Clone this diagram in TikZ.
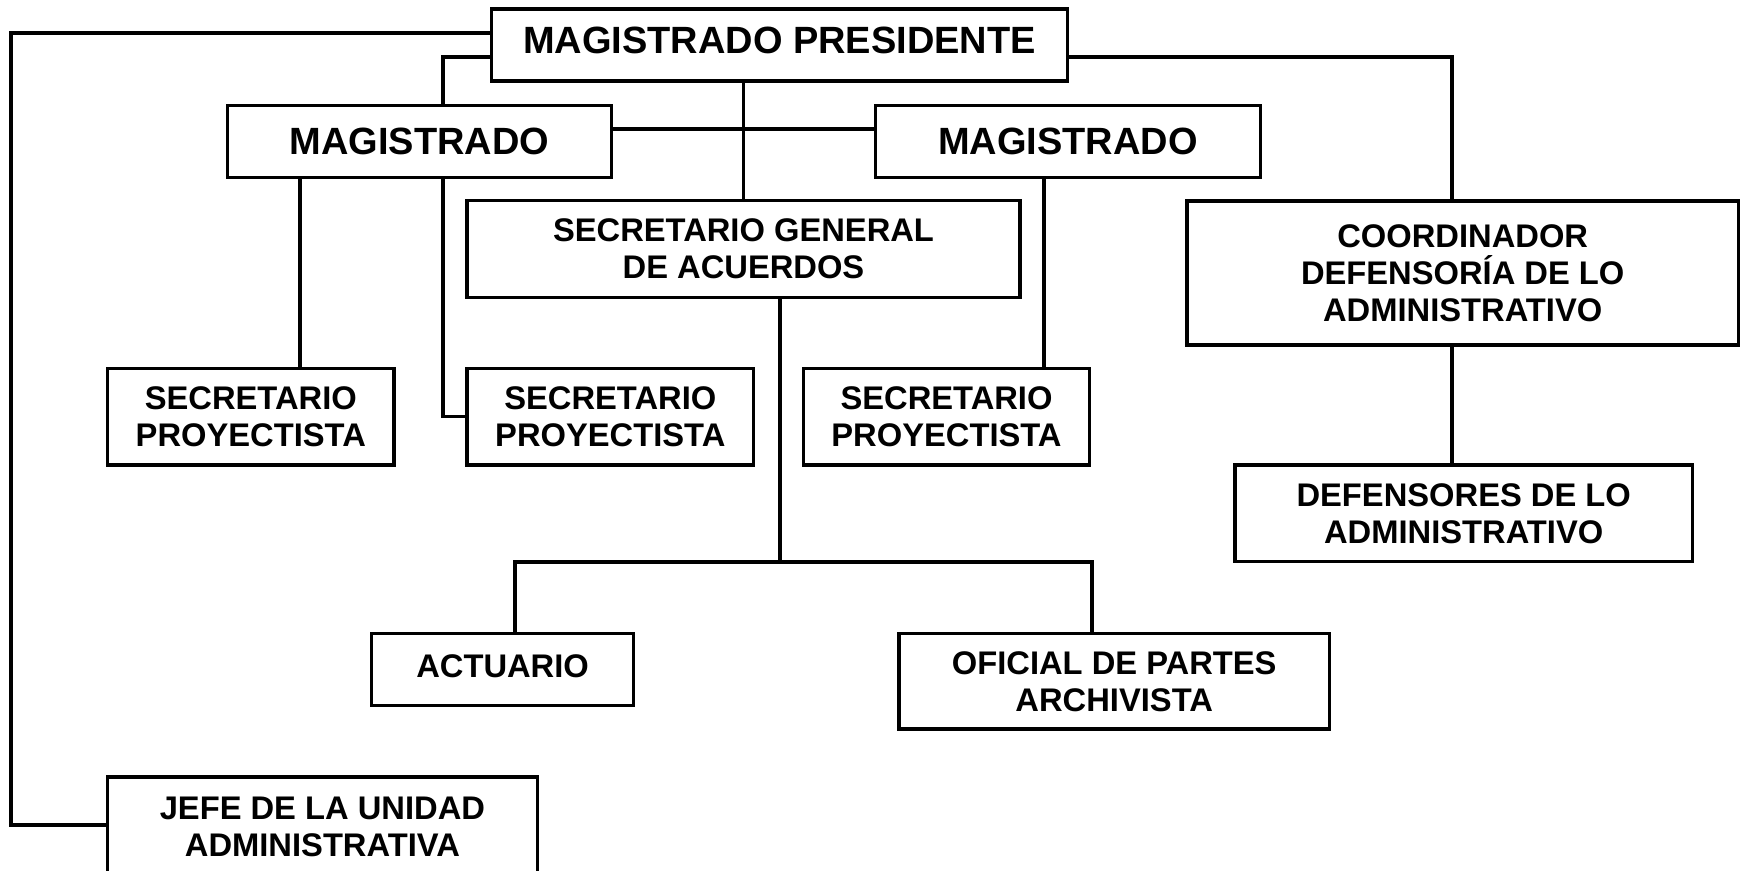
\documentclass[tikz,border=0pt]{standalone}
\usepackage{fontspec}
\setmainfont{Liberation Sans}
\usetikzlibrary{positioning, backgrounds}
\tikzset{
  topbox/.style={rectangle, draw=black, fill=white, line width=1pt,
    align=center, inner sep=0pt, font=\fontsize{10.8}{12.5}\selectfont\bfseries},
  unitbox/.style={rectangle, draw=black, fill=white, line width=1pt,
    align=center, inner sep=0pt, font=\fontsize{9.3}{10.5}\selectfont\bfseries},
  link/.style={line width=1pt, color=black}
}

\begin{document}
\begin{tikzpicture}[x=0.01cm, y=-0.01cm]
  \useasboundingbox (0,0) rectangle (1740,871);
  % Presidencia y magistrados
  \node[topbox, minimum width=5.76cm, minimum height=0.72cm] (pres) at (779.5,45) {\raisebox{0.1cm}{MAGISTRADO PRESIDENTE}};
  \node[topbox, minimum width=3.84cm, minimum height=0.72cm] (magl) at (419.5,141.5) {MAGISTRADO};
  \node[topbox, minimum width=3.85cm, minimum height=0.72cm] (magr) at (1068,141.5) {MAGISTRADO};
  % Secretaria general y coordinacion
  \node[unitbox, minimum width=5.53cm, minimum height=0.965cm] (sga) at (743.5,249) {SECRETARIO GENERAL\\DE ACUERDOS};
  \node[unitbox, minimum width=5.51cm, minimum height=1.44cm] (coord) at (1462.7,273) {COORDINADOR\\DEFENSORÍA DE LO\\ADMINISTRATIVO};
  % Secretarios proyectistas
  \node[unitbox, minimum width=2.86cm, minimum height=0.966cm] (sp1) at (250.8,416.7) {SECRETARIO\\PROYECTISTA};
  \node[unitbox, minimum width=2.86cm, minimum height=0.966cm] (sp2) at (610.3,416.7) {SECRETARIO\\PROYECTISTA};
  \node[unitbox, minimum width=2.86cm, minimum height=0.966cm] (sp3) at (946.5,416.7) {SECRETARIO\\PROYECTISTA};
  \node[unitbox, minimum width=4.57cm, minimum height=0.965cm] (def) at (1463.7,513.3) {DEFENSORES DE LO\\ADMINISTRATIVO};
  % Actuario y oficialia
  \node[unitbox, minimum width=2.62cm, minimum height=0.72cm] (act) at (502.6,669.7) {\raisebox{0.07cm}{ACTUARIO}};
  \node[unitbox, minimum width=4.30cm, minimum height=0.955cm] (ofi) at (1114.2,681.3) {OFICIAL DE PARTES\\ARCHIVISTA};
  % Unidad administrativa
  \node[unitbox, minimum width=4.30cm, minimum height=1.0cm] (jefe) at (322.4,826.8) {JEFE DE LA UNIDAD\\ADMINISTRATIVA};
  % Lineas
  \begin{scope}[on background layer]
    \draw[link] (pres.west |- 0,33) -- (11,33) -- (11,825) -- (jefe.west |- 0,825);
    \draw[link] (pres.west |- 0,57) -- (443,57) |- (sp2.west);
    \draw[link] (pres.south -| sga.north) -- (sga.north);
    \draw[link] (magl.east |- 0,129) -- (magr.west |- 0,129);
    \draw[link] (magl.south -| 300,0) -- (sp1.north -| 300,0);
    \draw[link] (magr.south -| 1044,0) -- (sp3.north -| 1044,0);
    \draw[link] (pres.east |- 0,57) -- (1452,57) -- (coord.north -| 1452,0);
    \draw[link] (coord.south -| 1452,0) -- (def.north -| 1452,0);
    \draw[link] (sga.south -| 780,0) -- (780,562);
    \draw[link] (act.north -| 515,0) |- (1092,562) -- (ofi.north -| 1092,0);
  \end{scope}
\end{tikzpicture}
\end{document}
